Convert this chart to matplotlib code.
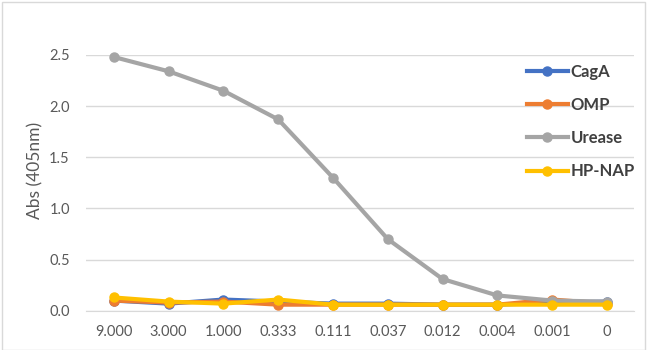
import matplotlib
matplotlib.use("Agg")
import matplotlib.pyplot as plt
from matplotlib.patches import Rectangle

categories = ["9.000", "3.000", "1.000", "0.333", "0.111", "0.037", "0.012", "0.004", "0.001", "0"]
cagA = [0.10, 0.07, 0.11, 0.09, 0.07, 0.07, 0.06, 0.06, 0.08, 0.09]
omp = [0.10, 0.08, 0.09, 0.06, 0.06, 0.06, 0.06, 0.06, 0.11, 0.07]
urease = [2.48, 2.34, 2.15, 1.87, 1.30, 0.70, 0.31, 0.15, 0.10, 0.09]
hpnap = [0.13, 0.09, 0.07, 0.11, 0.06, 0.06, 0.06, 0.06, 0.06, 0.06]
series_names = ["CagA", "OMP", "Urease", "HP-NAP"]
colors = ["#4472C4", "#ED7D31", "#A5A5A5", "#FFC000"]
yticks = [0.0, 0.5, 1.0, 1.5, 2.0, 2.5]

plt.rcParams['font.family'] = ['Lato', 'DejaVu Sans']

W, H = 650, 350
fig = plt.figure(figsize=(6.5, 3.5), dpi=100)
ax = fig.add_axes([0.133, 0.112, 0.843, 0.731])

x = list(range(len(categories)))
for vals, name, c in zip([cagA, omp, urease, hpnap], series_names, colors):
    ax.plot(x, vals, color=c, lw=3, marker='o', ms=6.5, label=name, clip_on=False, zorder=3)

ax.set_xlim(-0.5, len(categories) - 0.5)
ax.set_ylim(0, 2.5)
ax.set_yticks(yticks)
ax.set_yticklabels([f"{v:.1f}" for v in yticks])
ax.set_xticks(x)
ax.set_xticklabels(categories)
ax.grid(axis='y', color='#D9D9D9', lw=1)
ax.set_axisbelow(True)
for s in ['top', 'right', 'left']:
    ax.spines[s].set_visible(False)
ax.spines['bottom'].set_color('#D9D9D9')
ax.tick_params(axis='both', length=0, colors='#595959', labelsize=10.5)
ax.tick_params(axis='y', pad=12)
ax.tick_params(axis='x', pad=10)
fig.text(35 / W, 1 - 170 / H, "Abs (405nm)", rotation=90, color='#595959',
         fontsize=12.5, ha='center', va='center')

leg = fig.legend(loc='upper left', bbox_to_anchor=(527 / W, 1 - 64 / H), frameon=False,
                 borderpad=0, borderaxespad=0,
                 handlelength=2.45, handletextpad=0.15, labelspacing=1.03,
                 prop={'size': 12, 'weight': 'bold'})
for t in leg.get_texts():
    t.set_color('#404040')

fig.patches.append(Rectangle((1.5 / W, 0), 643.5 / W, 1 - 1.5 / H, transform=fig.transFigure,
                             fill=False, edgecolor='#D9D9D9', lw=1))

fig.savefig("out.png", dpi=100)
